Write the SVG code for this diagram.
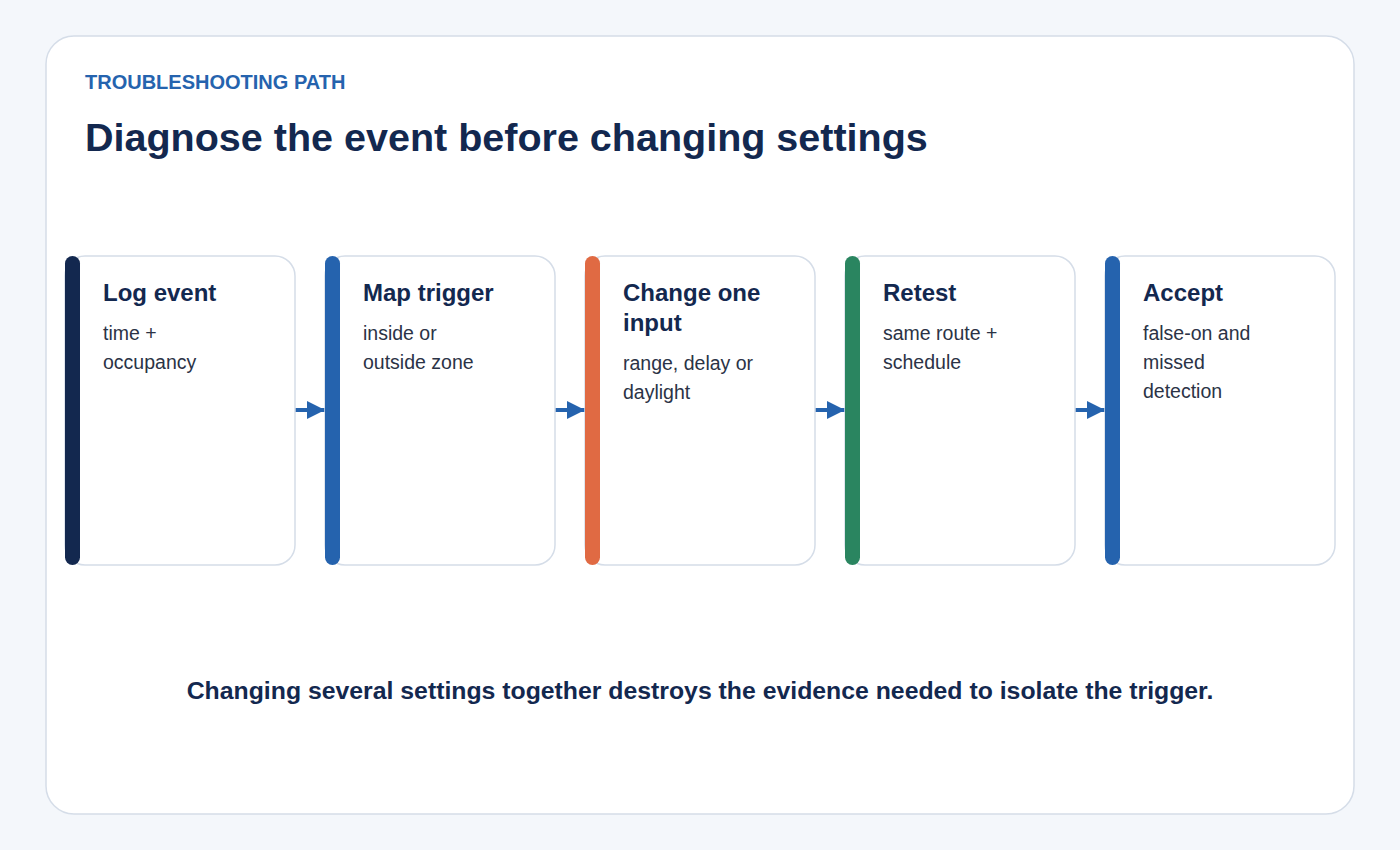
<svg xmlns="http://www.w3.org/2000/svg" width="1400" height="850" viewBox="0 0 1400 850">
<style>
.card{fill:#ffffff;stroke:#d5dde8;stroke-width:1.5}
.ttl{font-family:"Liberation Sans",Arial,sans-serif;font-weight:bold;font-size:24px;fill:#13284f}
.body{font-family:"Liberation Sans",Arial,sans-serif;font-size:19.5px;fill:#2b3346}
.conn{stroke:#2563ae;stroke-width:4;fill:none}
</style>
<defs>
<marker id="ah" viewBox="0 0 10 10" refX="10" refY="5" markerWidth="4.5" markerHeight="4.5" orient="auto" markerUnits="strokeWidth">
<path d="M0,0 L10,5 L0,10 Z" fill="#2563ae"/>
</marker>
</defs>
<rect x="0" y="0" width="1400" height="850" fill="#f4f7fb"/>
<rect x="46" y="36" width="1308" height="778" rx="28" fill="#ffffff" stroke="#d5dde8" stroke-width="1.5"/>
<text x="85" y="89" font-family="'Liberation Sans',Arial,sans-serif" font-weight="bold" font-size="20" fill="#2563ae">TROUBLESHOOTING PATH</text>
<text x="85" y="151" font-family="'Liberation Sans',Arial,sans-serif" font-weight="bold" font-size="39.5" fill="#13284f">Diagnose the event before changing settings</text>

<g id="connectors">
<line class="conn" x1="295" y1="410" x2="325" y2="410" marker-end="url(#ah)"/>
<line class="conn" x1="555" y1="410" x2="585" y2="410" marker-end="url(#ah)"/>
<line class="conn" x1="815" y1="410" x2="845" y2="410" marker-end="url(#ah)"/>
<line class="conn" x1="1075" y1="410" x2="1105" y2="410" marker-end="url(#ah)"/>
</g>

<g id="node-log">
<rect class="card" x="65" y="256" width="230" height="309" rx="20"/>
<rect x="65" y="256" width="15" height="309" rx="7.5" fill="#13284f"/>
<text class="ttl" x="103" y="301">Log event</text>
<text class="body" x="103" y="340">time +</text>
<text class="body" x="103" y="369">occupancy</text>
</g>
<g id="node-map">
<rect class="card" x="325" y="256" width="230" height="309" rx="20"/>
<rect x="325" y="256" width="15" height="309" rx="7.5" fill="#2563ae"/>
<text class="ttl" x="363" y="301">Map trigger</text>
<text class="body" x="363" y="340">inside or</text>
<text class="body" x="363" y="369">outside zone</text>
</g>
<g id="node-change">
<rect class="card" x="585" y="256" width="230" height="309" rx="20"/>
<rect x="585" y="256" width="15" height="309" rx="7.5" fill="#e06a43"/>
<text class="ttl" x="623" y="301">Change one</text>
<text class="ttl" x="623" y="331">input</text>
<text class="body" x="623" y="370">range, delay or</text>
<text class="body" x="623" y="399">daylight</text>
</g>
<g id="node-retest">
<rect class="card" x="845" y="256" width="230" height="309" rx="20"/>
<rect x="845" y="256" width="15" height="309" rx="7.5" fill="#2a8560"/>
<text class="ttl" x="883" y="301">Retest</text>
<text class="body" x="883" y="340">same route +</text>
<text class="body" x="883" y="369">schedule</text>
</g>
<g id="node-accept">
<rect class="card" x="1105" y="256" width="230" height="309" rx="20"/>
<rect x="1105" y="256" width="15" height="309" rx="7.5" fill="#2563ae"/>
<text class="ttl" x="1143" y="301">Accept</text>
<text class="body" x="1143" y="340">false-on and</text>
<text class="body" x="1143" y="369">missed</text>
<text class="body" x="1143" y="398">detection</text>
</g>

<text x="700" y="699" text-anchor="middle" font-family="'Liberation Sans',Arial,sans-serif" font-weight="bold" font-size="24.8" fill="#13284f">Changing several settings together destroys the evidence needed to isolate the trigger.</text>
</svg>
